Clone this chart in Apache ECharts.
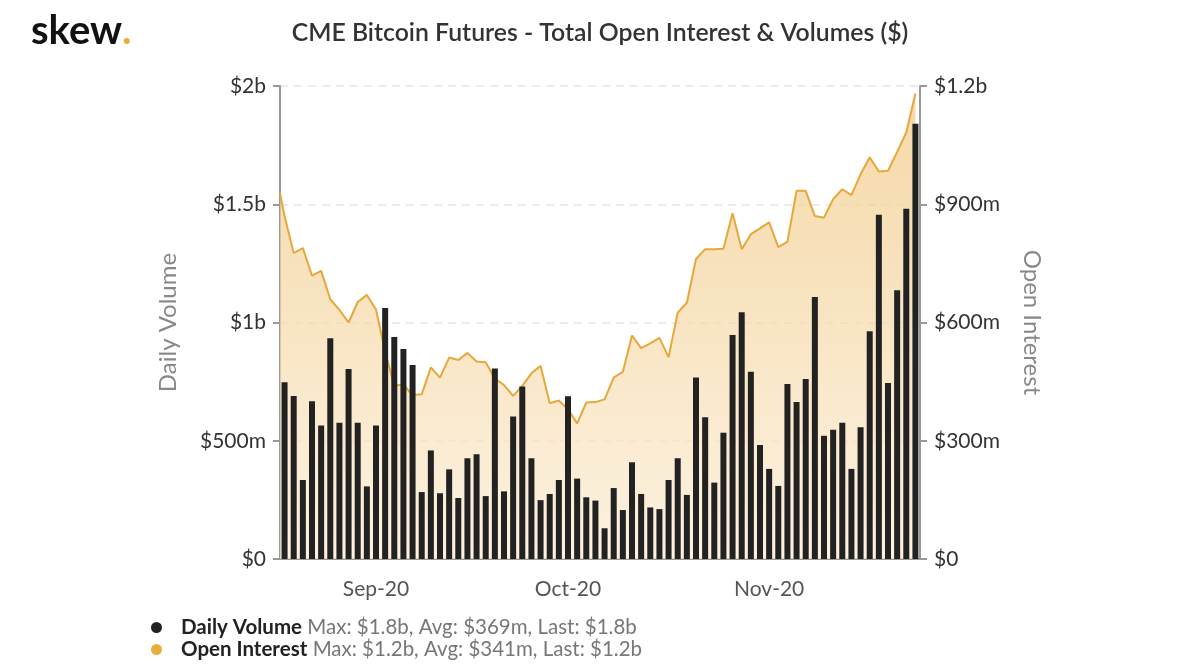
<!DOCTYPE html>
<html>
<head>
<meta charset="utf-8">
<title>CME Bitcoin Futures - Total Open Interest & Volumes ($)</title>
<script src="https://cdn.jsdelivr.net/npm/echarts@6/dist/echarts.min.js"></script>
<style>
  html, body { margin: 0; padding: 0; background: #fff; }
  #chart { width: 1200px; height: 670px; }
</style>
</head>
<body>
<div id="chart"></div>
<script>
// trading days shown on the x axis
var dates = [
    '2020-08-18', '2020-08-19', '2020-08-20', '2020-08-21', '2020-08-24', '2020-08-25', '2020-08-26', '2020-08-27', '2020-08-28', '2020-08-31',
    '2020-09-01', '2020-09-02', '2020-09-03', '2020-09-04', '2020-09-08', '2020-09-09', '2020-09-10', '2020-09-11', '2020-09-14', '2020-09-15',
    '2020-09-16', '2020-09-17', '2020-09-18', '2020-09-21', '2020-09-22', '2020-09-23', '2020-09-24', '2020-09-25', '2020-09-28', '2020-09-29',
    '2020-09-30', '2020-10-01', '2020-10-02', '2020-10-05', '2020-10-06', '2020-10-07', '2020-10-08', '2020-10-09', '2020-10-12', '2020-10-13',
    '2020-10-14', '2020-10-15', '2020-10-16', '2020-10-19', '2020-10-20', '2020-10-21', '2020-10-22', '2020-10-23', '2020-10-26', '2020-10-27',
    '2020-10-28', '2020-10-29', '2020-10-30', '2020-11-02', '2020-11-03', '2020-11-04', '2020-11-05', '2020-11-06', '2020-11-09', '2020-11-10',
    '2020-11-11', '2020-11-12', '2020-11-13', '2020-11-16', '2020-11-17', '2020-11-18', '2020-11-19', '2020-11-20', '2020-11-23', '2020-11-24'
];
var monthNames = ['Jan', 'Feb', 'Mar', 'Apr', 'May', 'Jun', 'Jul', 'Aug', 'Sep', 'Oct', 'Nov', 'Dec'];

// daily volume, $m
var dailyVolume = [
    747, 689, 334, 667, 565, 933, 576, 803, 576, 307,
    565, 1061, 939, 888, 820, 283, 459, 278, 379, 258,
    426, 443, 266, 805, 286, 603, 729, 426, 249, 275,
    334, 688, 340, 261, 247, 130, 300, 207, 409, 275,
    218, 211, 334, 426, 271, 767, 599, 323, 534, 947,
    1043, 792, 482, 381, 309, 740, 664, 761, 1108, 521,
    547, 576, 381, 557, 963, 1456, 744, 1136, 1481, 1840
];

// open interest, $m
var openInterest = [
    870, 776, 789, 719, 731, 659, 632, 600, 652, 670,
    633, 525, 440, 442, 416, 418, 486, 460, 511, 505,
    523, 501, 499, 458, 441, 414, 439, 471, 490, 395,
    402, 380, 344, 397, 398, 405, 460, 475, 567, 535,
    547, 561, 512, 625, 650, 761, 786, 786, 787, 877,
    786, 824, 839, 854, 791, 805, 934, 934, 870, 866,
    913, 938, 923, 976, 1019, 983, 985, 1033, 1082, 1181
];
// open interest where the line enters the plot at the left edge
var oiLeadIn = 928;

var volumeTicks = [0, 500, 1000, 1500, 2000];
var oiTicks = [0, 300, 600, 900, 1200];

var seriesNames = ['Daily Volume', 'Open Interest'];
var legendStats = [
    'Max: $1.8b, Avg: $369m, Last: $1.8b',
    'Max: $1.2b, Avg: $341m, Last: $1.2b'
];

var FONT = 'Lato, "Noto Sans", sans-serif';

function money(v) {
    if (v === 0) return '$0';
    if (v >= 1000) return '$' + (v / 1000) + 'b';
    return '$' + v + 'm';
}

// first trading day of each month gets a label
function isMonthStart(i) {
    if (i === 0) return false;
    return dates[i].slice(5, 7) !== dates[i - 1].slice(5, 7);
}

var oiPoints = [[-0.5, oiLeadIn]];
openInterest.forEach(function (v, i) { oiPoints.push([i, v]); });

var chart = echarts.init(document.getElementById('chart'));

var option = {
    backgroundColor: '#fff',
    animation: false,
    title: [{
        text: 'CME Bitcoin Futures - Total Open Interest & Volumes ($)',
        left: 'center',
        top: 16,
        textStyle: { fontFamily: FONT, fontSize: 24.8, fontWeight: 600, color: '#333' }
    }, {
        text: '{a|skew}{b|.}',
        left: 26,
        top: 6,
        textStyle: {
            rich: {
                a: { fontFamily: FONT, fontSize: 40, fontWeight: 'bold', color: '#111' },
                b: { fontFamily: FONT, fontSize: 40, fontWeight: 'bold', color: '#e8ae3a' }
            }
        }
    }],
    legend: {
        orient: 'vertical',
        left: 151,
        top: 617,
        height: 60,
        padding: 0,
        itemGap: 1,
        icon: 'circle',
        itemWidth: 11,
        itemHeight: 11,
        data: seriesNames,
        formatter: function (name) {
            return '{n|' + name + '} {s|' + legendStats[seriesNames.indexOf(name)] + '}';
        },
        textStyle: {
            rich: {
                n: { fontFamily: FONT, fontSize: 20.5, lineHeight: 22, fontWeight: 'bold', color: '#222', padding: [0, 2, 0, 14] },
                s: { fontFamily: FONT, fontSize: 20.5, lineHeight: 22, color: '#777' }
            }
        }
    },
    grid: { left: 280, right: 280, top: 86, bottom: 111 },
    xAxis: [{
        type: 'category',
        data: dates,
        boundaryGap: true,
        axisLine: { lineStyle: { color: '#999', width: 2 } },
        axisTick: { alignWithLabel: true, interval: isMonthStart, length: 7, lineStyle: { color: '#999', width: 2 } },
        axisLabel: {
            interval: isMonthStart,
            margin: 20,
            fontFamily: FONT,
            fontSize: 21,
            color: '#555',
            formatter: function (d) {
                return monthNames[+d.slice(5, 7) - 1] + '-' + d.slice(2, 4);
            }
        }
    }, {
        type: 'value',
        min: -0.5,
        max: dates.length - 0.5,
        show: false
    }],
    yAxis: [{
        type: 'value',
        name: 'Daily Volume',
        nameLocation: 'middle',
        nameGap: 100,
        nameRotate: 90,
        nameTextStyle: { fontFamily: FONT, fontSize: 24, color: '#888' },
        min: volumeTicks[0],
        max: volumeTicks[volumeTicks.length - 1],
        interval: volumeTicks[1] - volumeTicks[0],
        axisLine: { show: true, onZero: false, lineStyle: { color: '#999', width: 2 } },
        axisTick: { show: true, length: 7, lineStyle: { color: '#999', width: 2 } },
        axisLabel: { margin: 14, fontFamily: FONT, fontSize: 21, color: '#333', formatter: money },
        splitLine: { lineStyle: { color: '#e6e6e6', type: [8, 6], width: 1.5 } }
    }, {
        type: 'value',
        name: 'Open Interest',
        nameLocation: 'middle',
        nameGap: 100,
        nameRotate: -90,
        nameTextStyle: { fontFamily: FONT, fontSize: 24, color: '#888' },
        min: oiTicks[0],
        max: oiTicks[oiTicks.length - 1],
        interval: oiTicks[1] - oiTicks[0],
        axisLine: { show: true, onZero: false, lineStyle: { color: '#999', width: 2 } },
        axisTick: { show: true, length: 7, lineStyle: { color: '#999', width: 2 } },
        axisLabel: { margin: 14, fontFamily: FONT, fontSize: 21, color: '#333', formatter: money },
        splitLine: { show: false }
    }],
    series: [{
        name: 'Open Interest',
        type: 'line',
        xAxisIndex: 1,
        yAxisIndex: 1,
        data: oiPoints,
        symbol: 'none',
        z: 2,
        lineStyle: { color: '#e6a83a', width: 2 },
        itemStyle: { color: '#e8ae3a' },
        areaStyle: {
            color: new echarts.graphic.LinearGradient(0, 0, 0, 1, [
                { offset: 0, color: '#f1c883' },
                { offset: 1, color: '#fbecd2' }
            ])
        }
    }, {
        name: 'Daily Volume',
        type: 'bar',
        xAxisIndex: 0,
        yAxisIndex: 0,
        data: dailyVolume,
        barWidth: 6,
        z: 3,
        itemStyle: { color: '#222' }
    }]
};

chart.setOption(option);
window.onresize = chart.resize;
</script>
</body>
</html>
